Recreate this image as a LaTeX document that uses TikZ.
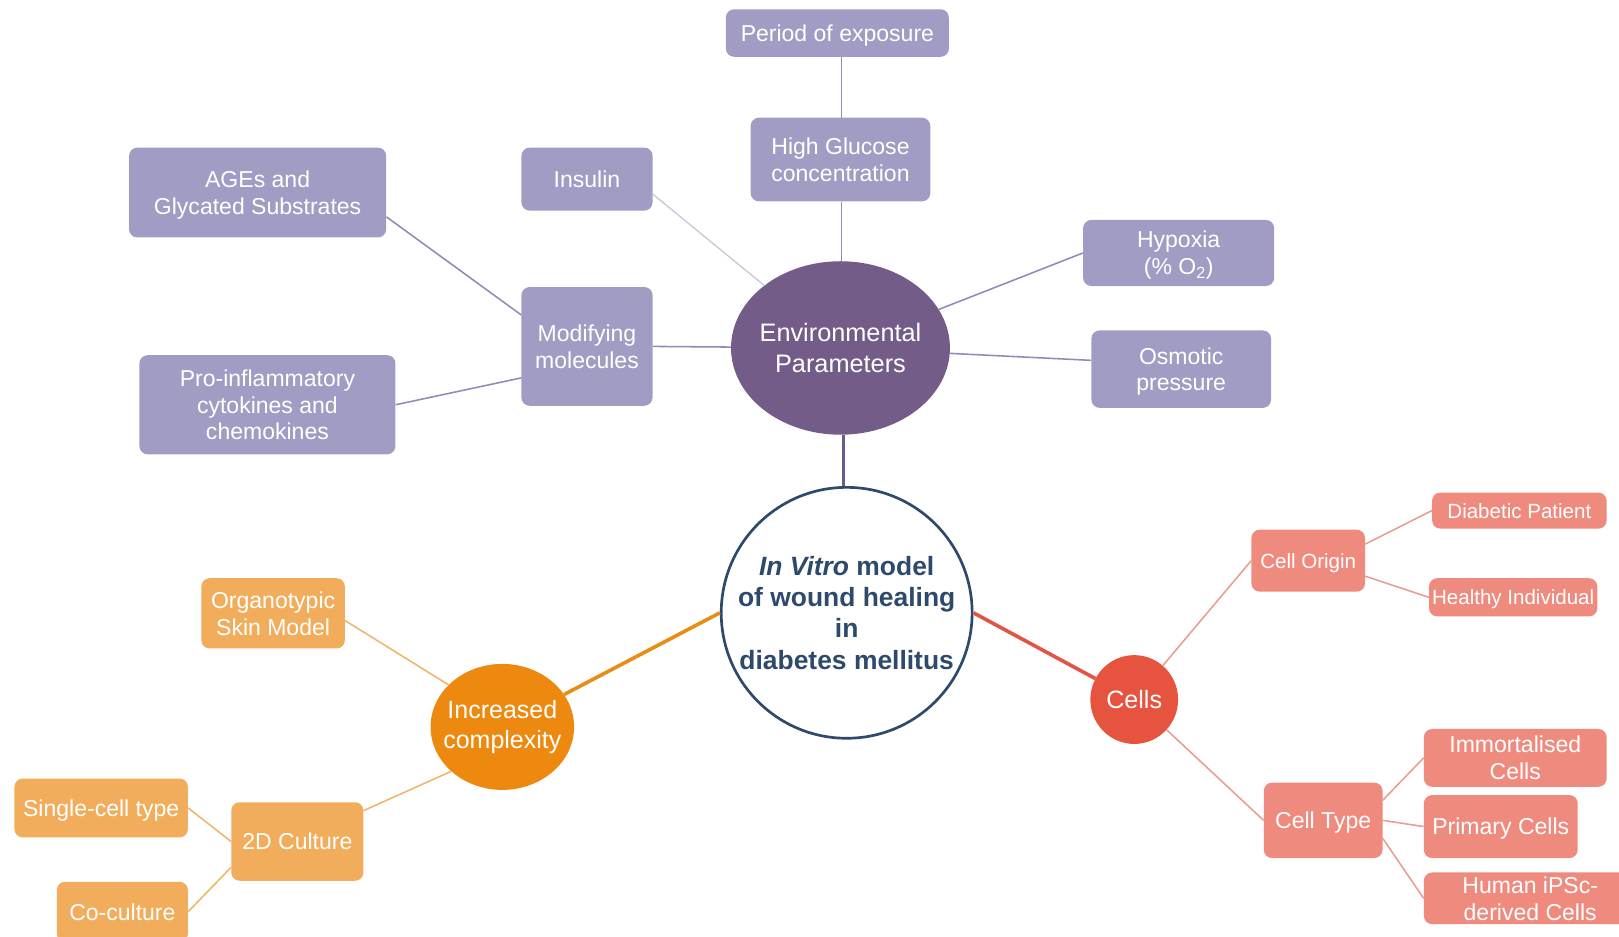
\documentclass[tikz,border=0pt]{standalone}
\usepackage{fontspec}
\setmainfont{Liberation Sans}
\usetikzlibrary{shapes.geometric}
\definecolor{pbox}{HTML}{A09CC4}
\definecolor{penv}{HTML}{745C88}
\definecolor{pline}{HTML}{8F8BB6}
\definecolor{plinelight}{HTML}{C9C7DE}
\definecolor{pdark}{HTML}{6B5A92}
\definecolor{cblue}{HTML}{2D4A6C}
\definecolor{obox}{HTML}{F2AD5C}
\definecolor{oc}{HTML}{ED890E}
\definecolor{oline}{HTML}{F0B46A}
\definecolor{othick}{HTML}{E88E14}
\definecolor{rbox}{HTML}{EE8B7E}
\definecolor{rc}{HTML}{E6533E}
\definecolor{rline}{HTML}{E99C91}
\definecolor{rthick}{HTML}{E05544}
\tikzset{
  sz/.style 2 args={minimum width=#1pt, minimum height=#2pt},
  box/.style={rectangle, rounded corners=8pt, inner sep=0pt, align=center, text=white,
    text depth=0pt, font=\fontsize{22.3}{26}\selectfont},
  smallbox/.style={box, font=\fontsize{19.9}{23}\selectfont},
  pbx/.style={box, fill=pbox},
  obx/.style={box, fill=obox},
  rbx/.style={box, fill=rbox},
  rsbx/.style={smallbox, fill=rbox},
  hub/.style={ellipse, inner sep=0pt},
  hubtext/.style={align=center, text=white, inner sep=0pt},
  pcon/.style={draw=pline, line width=1.5pt},
  ocon/.style={draw=oline, line width=1.5pt},
  rcon/.style={draw=rline, line width=1.5pt},
}
\begin{document}
\begin{tikzpicture}[x=1pt,y=-1pt]
\useasboundingbox (0,0) rectangle (1568,907);
\clip (0,0) rectangle (1568,907);
\fill[white] (0,0) rectangle (1568,907);

% purple branch
\node[pbx, sz={216}{46}] (period) at (811,32) {Period of exposure};
\node[pbx, sz={174}{81}] (hg) at (814,154.5) {High Glucose\\concentration};
\node[pbx, sz={127}{61}] (insulin) at (568.5,173.5) {Insulin};
\node[pbx, sz={249}{87}] (ages) at (249.5,186.5) {AGEs and\\Glycated Substrates};
\node[pbx, sz={127}{115}] (mod) at (568.5,335.5) {Modifying\\molecules};
\node[pbx, sz={248}{96}] (pro) at (259,392) {Pro-inflammatory\\cytokines and\\chemokines};
\node[pbx, sz={185}{64}] (hyp) at (1141.5,245) {Hypoxia\\(\% O\textsubscript{2})};
\node[pbx, sz={174}{75}] (osm) at (1144,357.5) {Osmotic\\pressure};
\node[hub, fill=penv, sz={212}{168},
  label={[hubtext, font=\fontsize{24.5}{30}\selectfont]center:Environmental\\Parameters}] (env) at (814,337) {};

% centre
\node[circle, draw=cblue, line width=2.6pt, fill=white, minimum size=243pt, inner sep=0pt,
  align=center, text=cblue, font=\fontsize{25.6}{30.3}\selectfont\bfseries] (central) at (820,593.5)
  {\textit{In Vitro} model\\of wound healing\\in\\diabetes mellitus};

% orange branch
\node[hub, fill=oc, sz={139}{122},
  label={[hubtext, font=\fontsize{24.2}{29}\selectfont]center:Increased\\complexity}] (inc) at (486.5,704) {};
\node[obx, sz={139}{68}] (org) at (264.5,594) {Organotypic\\Skin Model};
\node[obx, sz={128}{76}] (cult) at (288,815) {2D Culture};
\node[obx, sz={168}{57}] (single) at (98,782.5) {Single-cell type};
\node[obx, sz={127}{58}] (co) at (118.5,883) {Co-culture};

% red branch
\node[hub, fill=rc, sz={85}{86},
  label={[hubtext, font=\fontsize{24.3}{29}\selectfont]center:Cells}] (cells) at (1098.5,677.5) {};
\node[rsbx, sz={110}{60}] (origin) at (1267,543) {Cell Origin};
\node[rsbx, sz={169}{35}] (diab) at (1471.5,494.5) {Diabetic Patient};
\node[rsbx, sz={163}{37}] (healthy) at (1465.5,578.5) {Healthy Individual};
\node[rbx, sz={115}{73}] (ctype) at (1281.5,794.5) {Cell Type};
\node[rbx, sz={177}{56}] (immort) at (1467.5,734) {Immortalised\\Cells};
\node[rbx, sz={149}{61}] (primary) at (1453.5,800.5) {Primary Cells};
\node[rbx, sz={206}{50}] (human) at (1482,870) {Human iPSc-\\derived Cells};

% purple connectors
\draw[pcon] ([xshift=4pt]period.south) -- ([xshift=1pt]hg.north);
\draw[pcon] ([xshift=1pt]hg.south) -- ([xshift=1pt]env.north);
\draw[draw=plinelight, line width=1.3pt] ([yshift=-14.5pt]insulin.east) -- (env);
\draw[pcon] (mod.east) -- (env);
\draw[pcon] ([yshift=-23.5pt]ages.east) -- ([yshift=30.5pt]mod.west);
\draw[pcon] (pro.east) -- ([yshift=-30.5pt]mod.west);
\draw[pcon] (env) -- (hyp.west);
\draw[pcon] (env) -- ([yshift=8.5pt]osm.west);
\draw[draw=pdark, line width=3pt] ([xshift=3pt]env.south) -- ([xshift=-3pt]central.north);

% orange connectors
\draw[draw=othick, line width=3.5pt] (central.west) -- (inc);
\draw[ocon] ([yshift=-7pt]org.east) -- (inc.142);
\draw[ocon] ([yshift=30pt]cult.east) -- (inc.221);
\draw[ocon] (cult.west) -- (single.east);
\draw[ocon] ([yshift=-25pt]cult.west) -- (co.east);

% red connectors
\draw[draw=rthick, line width=3.5pt] (central.east) -- (cells);
\draw[rcon] (cells) -- (origin.west);
\draw[rcon] (cells) -- (ctype.west);
\draw[rcon] ([yshift=16pt]origin.east) -- (diab.west);
\draw[rcon] ([yshift=-15pt]origin.east) -- (healthy.west);
\draw[rcon] ([yshift=19.5pt]ctype.east) -- (immort.west);
\draw[rcon] (ctype.east) -- (primary.west);
\draw[rcon] ([yshift=-17.5pt]ctype.east) -- (human.west);
\end{tikzpicture}
\end{document}
